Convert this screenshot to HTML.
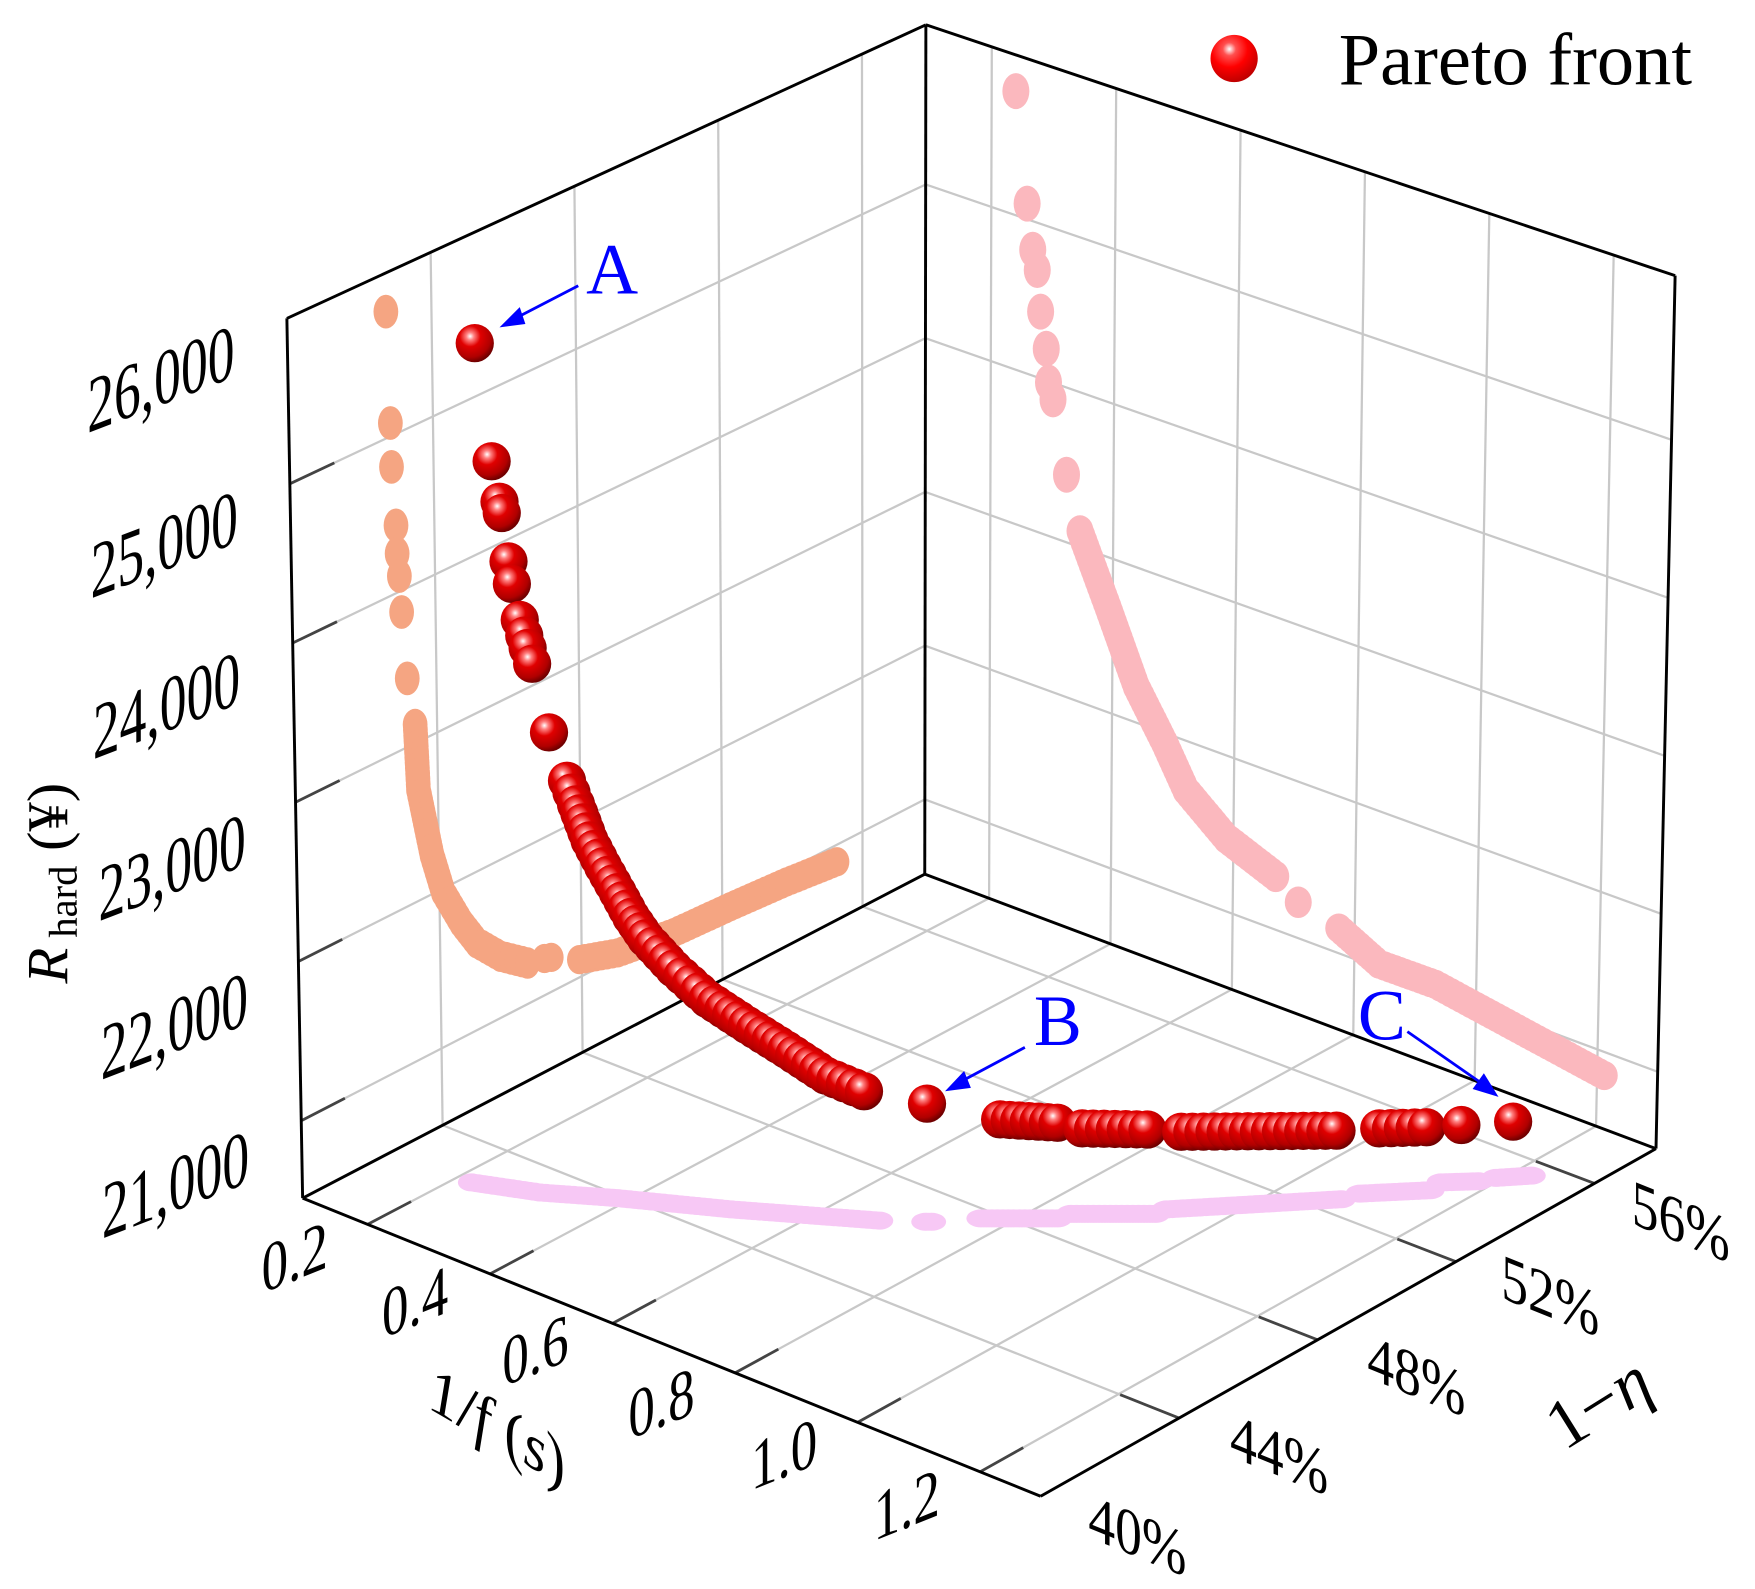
<!DOCTYPE html>
<html><head><meta charset="utf-8"><style>
html,body{margin:0;padding:0;background:#fff;}
svg{display:block;}
text{font-family:"Liberation Serif","Noto Serif CJK SC",serif;fill:#000;}
</style></head><body>
<svg id="s" xmlns="http://www.w3.org/2000/svg" width="1755" height="1589" viewBox="0 0 1560 1412.4">
<defs>
<radialGradient id="sph" cx="0.38" cy="0.32" r="0.68">
<stop offset="0" stop-color="#ffffff"/>
<stop offset="0.15" stop-color="#ff8080"/>
<stop offset="0.4" stop-color="#e00000"/>
<stop offset="0.8" stop-color="#b00000"/>
<stop offset="1" stop-color="#700000"/>
</radialGradient>
<radialGradient id="sph2" cx="0.4" cy="0.3" r="0.7">
<stop offset="0" stop-color="#ffffff"/>
<stop offset="0.2" stop-color="#ff5050"/>
<stop offset="0.55" stop-color="#ff0000"/>
<stop offset="1" stop-color="#c00000"/>
</radialGradient>
</defs>
<g id="grid" stroke="#c8c8c8" stroke-width="2" fill="none"></g>
<g id="ticks" stroke="#444" stroke-width="2.5" fill="none"></g>
<g id="box" stroke="#000" stroke-width="2.6" fill="none" stroke-linejoin="round"></g>
<g id="proj"></g>
<g id="pts"></g>

<g fill="#0000ff" stroke="#0000ff">
<line x1="514" y1="254" x2="458" y2="283" stroke-width="2.5"/>
<polygon points="444,291 462,273 467,288" stroke="none"/>
<line x1="911" y1="931" x2="853" y2="962" stroke-width="2.5"/>
<polygon points="840,970 857,952 863,967" stroke="none"/>
<line x1="1251" y1="917" x2="1320" y2="965" stroke-width="2.5"/>
<polygon points="1332,975 1309,968 1319,954" stroke="none"/>
</g>
<text x="521" y="261" font-size="64" style="fill:#0000ff">A</text>
<text x="919" y="929" font-size="64" style="fill:#0000ff">B</text>
<text x="1207" y="924" font-size="64" style="fill:#0000ff">C</text>

<circle cx="1097" cy="52" r="21" fill="url(#sph2)"/>
<text x="1190" y="75" font-size="66" textLength="314" lengthAdjust="spacingAndGlyphs">Pareto front</text>

<g font-size="70" text-anchor="middle">
<text transform="translate(143,336) skewY(-21) scale(0.68,1)" y="24">26,000</text>
<text transform="translate(146,483) skewY(-21) scale(0.68,1)" y="24">25,000</text>
<text transform="translate(148,626) skewY(-21) scale(0.68,1)" y="24">24,000</text>
<text transform="translate(153,770) skewY(-21) scale(0.68,1)" y="24">23,000</text>
<text transform="translate(155,911) skewY(-21) scale(0.68,1)" y="24">22,000</text>
<text transform="translate(156,1052) skewY(-21) scale(0.68,1)" y="24">21,000</text>
</g>
<g font-size="62" text-anchor="middle">
<text transform="translate(262,1117) skewY(-22) scale(0.76,1)" y="21">0.2</text>
<text transform="translate(369,1157) skewY(-22) scale(0.76,1)" y="21">0.4</text>
<text transform="translate(476,1200) skewY(-22) scale(0.76,1)" y="21">0.6</text>
<text transform="translate(588,1247) skewY(-22) scale(0.76,1)" y="21">0.8</text>
<text transform="translate(697,1292) skewY(-22) scale(0.76,1)" y="21">1.0</text>
<text transform="translate(806,1337) skewY(-22) scale(0.76,1)" y="21">1.2</text>
</g>
<g font-size="58" text-anchor="middle">
<text transform="translate(1494,1085) skewY(22) scale(0.82,1)" y="20">56%</text>
<text transform="translate(1378,1151) skewY(22) scale(0.82,1)" y="20">52%</text>
<text transform="translate(1259,1222) skewY(22) scale(0.82,1)" y="20">48%</text>
<text transform="translate(1137,1292) skewY(22) scale(0.82,1)" y="20">44%</text>
<text transform="translate(1011,1364) skewY(22) scale(0.82,1)" y="20">40%</text>
</g>
<text transform="translate(442,1269) skewY(30) scale(0.85,1)" y="18" font-size="60" text-anchor="middle"><tspan font-style="italic">1/f</tspan> (<tspan font-style="italic">s</tspan>)</text>
<text transform="translate(1422,1249) rotate(-32)" y="18" font-size="62" text-anchor="middle">1−<tspan font-style="italic">η</tspan></text>
<text transform="translate(60,785) rotate(-90)" font-size="52" text-anchor="middle"><tspan font-style="italic">R</tspan><tspan font-size="36" dy="8"> hard</tspan><tspan dy="-8"> (¥)</tspan></text>
</svg>
<script>
var NS="http://www.w3.org/2000/svg";
function el(p,t,a){var e=document.createElementNS(NS,t);for(var k in a)e.setAttribute(k,a[k]);document.getElementById(p).appendChild(e);return e;}
function bl(P00,P10,P11,P01,a,b){return[(1-a)*(1-b)*P00[0]+a*(1-b)*P10[0]+a*b*P11[0]+(1-a)*b*P01[0],(1-a)*(1-b)*P00[1]+a*(1-b)*P10[1]+a*b*P11[1]+(1-a)*b*P01[1]];}
var L=[269,1065],F=[925,1330],R=[1472,1021],B=[822,777],TB=[823,22],TL=[255,283],TR=[1489,245];
function line(g,p,q){el(g,"line",{x1:p[0],y1:p[1],x2:q[0],y2:q[1]});}
var U=[],V=[0.225,0.45,0.675,0.9],W=[];
for(var i=0;i<6;i++)U.push(0.088+0.166*i);
for(var k=0;k<5;k++)W.push(0.088+0.181*k);
function fl(u,v){return bl(L,F,R,B,u,v);}
function lw(v,w){return bl(L,B,TB,TL,v,w);}
function rw(u,w){return bl(B,R,TR,TB,u,w);}
U.forEach(function(u){line("grid",fl(u,0),fl(u,1));line("ticks",fl(u,0),fl(u,0.07));line("grid",rw(u,0),rw(u,1));});
V.forEach(function(v){line("grid",fl(0,v),fl(1,v));line("ticks",fl(1,v),fl(0.92,v));line("grid",lw(v,0),lw(v,1));});
W.forEach(function(w){line("grid",lw(0,w),lw(1,w));line("ticks",lw(0,w),lw(0.07,w));line("grid",rw(0,w),rw(1,w));});
[[TL,TB],[TB,TR],[TL,L],[TR,R],[TB,B],[L,F],[F,R],[L,B],[B,R]].forEach(function(s){line("box",s[0],s[1]);});
function dense(poly,step){var out=[];for(var i=0;i<poly.length-1;i++){var a=poly[i],b=poly[i+1];var d=Math.hypot(b[0]-a[0],b[1]-a[1]);var n=Math.max(1,Math.round(d/step));for(var j=0;j<n;j++){out.push([a[0]+(b[0]-a[0])*j/n,a[1]+(b[1]-a[1])*j/n]);}}out.push(poly[poly.length-1]);return out;}
var sal=[[343,277],[347,376],[348,415],[352,467],[353,492],[355,512],[357,544],[362,603]];
sal.forEach(function(p){el("proj","ellipse",{cx:p[0],cy:p[1],rx:11,ry:15,fill:"#f5a582"});});
dense([[369,644],[372,702],[384,760],[394,793],[410,820],[424,838],[445,850],[469,856]],5).forEach(function(p){el("proj","ellipse",{cx:p[0],cy:p[1],rx:11,ry:14,fill:"#f5a582"});});
dense([[484,852],[490,851]],5).forEach(function(p){el("proj","ellipse",{cx:p[0],cy:p[1],rx:11,ry:13,fill:"#f5a582"});});
dense([[515,853],[549,847],[599,829],[649,806],[699,784],[744,766]],5).forEach(function(p){el("proj","ellipse",{cx:p[0],cy:p[1],rx:11,ry:13,fill:"#f5a582"});});
[[903,81],[913,181],[918,222],[922,240],[925,277],[930,310],[932,340],[936,355],[948,422]].forEach(function(p){el("proj","ellipse",{cx:p[0],cy:p[1],rx:12,ry:16,fill:"#fbb8be"});});
dense([[960,472],[985,540],[1010,610],[1035,660],[1054,702],[1090,745],[1134,779]],5).forEach(function(p){el("proj","ellipse",{cx:p[0],cy:p[1],rx:12,ry:14,fill:"#fbb8be"});});
el("proj","ellipse",{cx:1154,cy:802,rx:12,ry:14,fill:"#fbb8be"});
dense([[1190,825],[1226,857],[1276,875],[1326,902],[1376,929],[1426,956]],5).forEach(function(p){el("proj","ellipse",{cx:p[0],cy:p[1],rx:12,ry:13,fill:"#fbb8be"});});
function vseg(a,b){dense([a,b],5).forEach(function(p){el("proj","ellipse",{cx:p[0],cy:p[1],rx:13,ry:8,fill:"#f7c8f5"});});}
dense([[419,1051],[480,1060],[549,1065],[650,1075],[782,1085]],5).forEach(function(p){el("proj","ellipse",{cx:p[0],cy:p[1],rx:12,ry:8,fill:"#f7c8f5"});});
vseg([823,1086],[828,1086]);vseg([872,1083],[940,1083]);vseg([952,1079],[1027,1079]);vseg([1037,1075],[1192,1066]);vseg([1209,1061],[1271,1058]);vseg([1281,1051],[1314,1050]);vseg([1330,1047],[1361,1045]);
var reds=[[422,305],[437,410],[444,446],[446,456],[452,499],[455,519],[462,551],[466,565],[469,576],[473,590],[488,651]];
reds=reds.concat(dense([[504,694],[512,715],[524,747],[536,770],[549,793],[561,815],[574,834],[599,861],[629,888],[664,911],[699,933],[734,956],[768,970]],9));
reds.push([824,981]);
reds=reds.concat(dense([[889,995],[940,998]],9)).concat(dense([[962,1003],[1020,1004]],10)).concat(dense([[1050,1006],[1188,1005]],10)).concat(dense([[1226,1003],[1268,1002]],12));
reds.push([1299,1000]);reds.push([1345,997]);
reds.forEach(function(p){el("pts","circle",{cx:p[0],cy:p[1],r:17,fill:"url(#sph)"});});
</script>
</body></html>
